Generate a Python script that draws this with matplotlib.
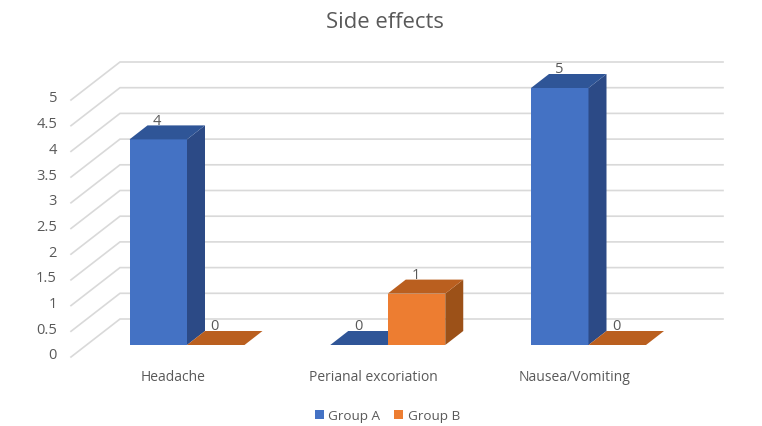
import matplotlib
matplotlib.use("Agg")
import matplotlib.pyplot as plt
from matplotlib.patches import Polygon, Rectangle

categories = ["Headache", "Perianal excoriation", "Nausea/Vomiting"]
group_a = [4, 0, 5]
group_b = [0, 1, 0]
y_ticks = [0, 0.5, 1, 1.5, 2, 2.5, 3, 3.5, 4, 4.5, 5]
y_tick_labels = ["0", "0.5", "1", "1.5", "2", "2.5", "3", "3.5", "4", "4.5", "5"]

W, H = 762, 427
plt.rcParams["font.family"] = "Open Sans"
TXT = "#595959"
GRID = "#D9D9D9"

fig = plt.figure(figsize=(W / 100, H / 100), dpi=100, facecolor="white")
ax = fig.add_axes([0, 0, 1, 1])
ax.axis("off")

# scale: one category = 200.75 px, one unit = 51.4 px
PX, PY = 200.75, 51.4
ax.set_xlim(-187 / PX, (W - 187) / PX)
ax.set_ylim((346 - H) / PY, 346 / PY)
dx, dy = 1 / PX, 1 / PY
bw = 57.5 * dx
bar_dx, bar_dy = 18 * dx, 14 * dy
wall_left = -116 * dx
wall_floor = -12 * dy
wall_dx, wall_dy = 49 * dx, 38 * dy
grid_right = (723 - 187) * dx


def box(x, v, front, top, side):
    if v > 0:
        ax.add_patch(Rectangle((x, 0), bw, v, fc=front, ec="none", zorder=3))
        ax.add_patch(Polygon([(x + bw, 0), (x + bw + bar_dx, bar_dy),
                              (x + bw + bar_dx, v + bar_dy), (x + bw, v)],
                             fc=side, ec="none", zorder=3))
    ax.add_patch(Polygon([(x, v), (x + bw, v), (x + bw + bar_dx, v + bar_dy),
                          (x + bar_dx, v + bar_dy)], fc=top, ec="none", zorder=3))


for t, lab in zip(y_ticks, y_tick_labels):
    y0 = t + wall_floor
    ax.plot([wall_left, wall_left + wall_dx, grid_right],
            [y0, y0 + wall_dy, y0 + wall_dy], color=GRID, lw=1.2,
            solid_joinstyle="miter", zorder=1)
    ax.text(wall_left - 14 * dx, t + wall_floor + 2 * dy, lab, color=TXT, fontsize=10.5,
            ha="right", va="center")

for i, (a, b) in enumerate(zip(group_a, group_b)):
    box(i - bw, a, "#4472C4", "#2F5597", "#2C4A86")
    box(i, b, "#ED7D31", "#BA5F1F", "#9C5118")
    ax.text(i - bw / 2 - 1 * dx, a + 19 * dy, str(a), color=TXT, fontsize=10.5,
            ha="center", va="center", zorder=2)
    ax.text(i + bw / 2 - 1 * dx, b + 19 * dy, str(b), color=TXT, fontsize=10.5,
            ha="center", va="center", zorder=2)
    ax.text(i - 14 * dx, -31.5 * dy, categories[i], color=TXT, fontsize=10,
            ha="center", va="center")

ax.text(384.5 / W, 1 - 22 / H, "Side effects", transform=ax.transAxes, color=TXT,
        fontsize=15.8, ha="center", va="center")

ax.legend(handles=[Rectangle((0, 0), 1, 1, fc="#4472C4", ec="none", label="Group A"),
                   Rectangle((0, 0), 1, 1, fc="#ED7D31", ec="none", label="Group B")],
          loc="center", bbox_to_anchor=(387.5 / W, 1 - 416.5 / H), ncol=2, frameon=False,
          fontsize=9.7, labelcolor=TXT, handlelength=0.65, handleheight=0.7,
          handletextpad=0.35, columnspacing=1.05, borderpad=0)

fig.savefig("out.png", dpi=100, facecolor="white")
